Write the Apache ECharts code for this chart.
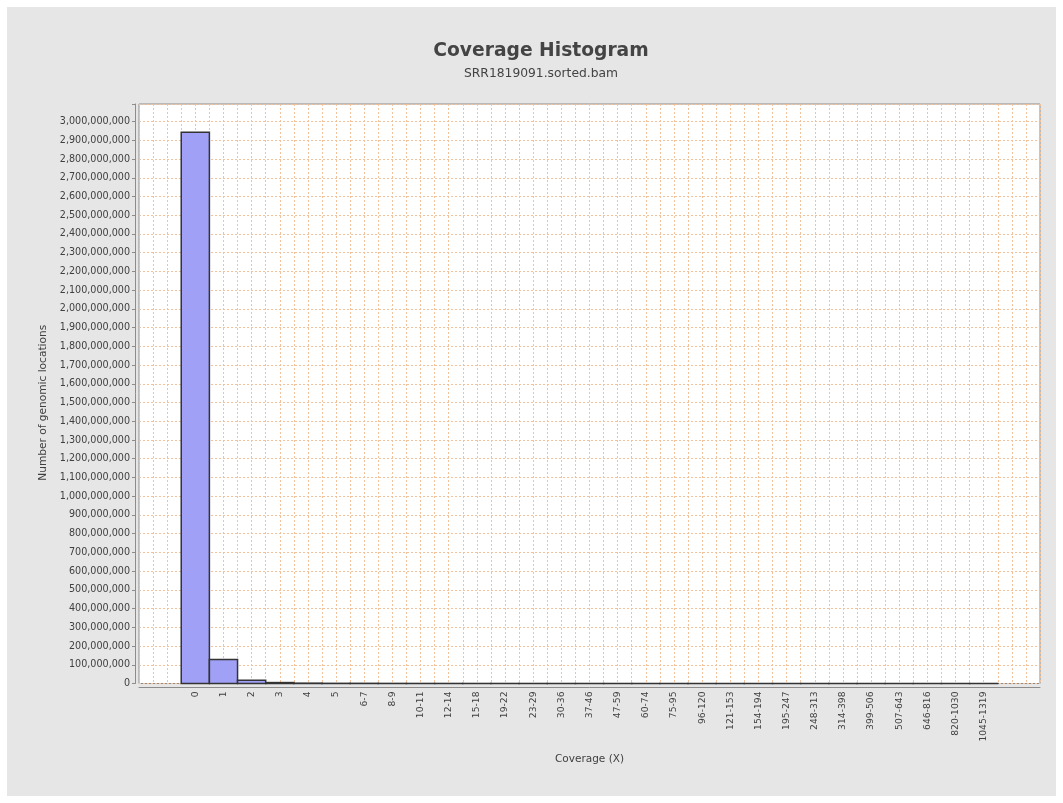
<!DOCTYPE html>
<html>
<head>
<meta charset="utf-8">
<script src="https://cdn.jsdelivr.net/npm/echarts@6/dist/echarts.min.js"></script>
<style>
html,body{margin:0;padding:0;background:#ffffff;}
#frame{position:absolute;left:7px;top:7px;width:1049px;height:789px;background:#e6e6e6;}
#chart{position:absolute;left:0;top:0;width:1063px;height:803px;}
</style>
</head>
<body>
<div id="frame"></div>
<div id="chart"></div>
<script>
// ---- data ----
const titleText = 'Coverage Histogram';
const subtitleText = 'SRR1819091.sorted.bam';
const xAxisName = 'Coverage (X)';
const yAxisName = 'Number of genomic locations';
const categories = ['0','1','2','3','4','5','6-7','8-9','10-11','12-14','15-18','19-22','23-29','30-36','37-46','47-59','60-74','75-95','96-120','121-153','154-194','195-247','248-313','314-398','399-506','507-643','646-816','820-1030','1045-1319'];
const values = [2943000000, 128000000, 17000000, 5000000, 1800000, 900000, 900000, 500000, 350000, 300000, 250000, 200000, 180000, 150000, 120000, 100000, 80000, 60000, 40000, 30000, 20000, 15000, 10000, 8000, 5000, 3000, 2000, 1000, 500];
const yMax = 3094000000;
const yInterval = 100000000;

const chart = echarts.init(document.getElementById('chart'), null, {renderer:'canvas'});
const font = 'DejaVu Sans';
const data = values.map((v, i) => [i, v]);
const gridColor = '#f3c29a';

function fmt(v){ return Math.round(v).toString().replace(/\B(?=(\d{3})+(?!\d))/g, ','); }

chart.setOption({
  backgroundColor: 'transparent',
  animation: false,
  title: {
    text: titleText,
    subtext: subtitleText,
    left: 536,
    top: 37,
    textAlign: 'center',
    itemGap: 7,
    textStyle: {fontFamily: font, fontSize: 18.7, fontWeight: 'bold', color: '#444444'},
    subtextStyle: {fontFamily: font, fontSize: 12.3, color: '#444444'}
  },
  grid: {
    left: 139, top: 104, width: 901, height: 579.5,
    show: true, backgroundColor: '#ffffff', borderColor: '#8c8c8c', borderWidth: 1
  },
  xAxis: {
    type: 'value', min: -2, max: 30, interval: 0.5,
    offset: 4,
    name: xAxisName, nameLocation: 'middle', nameGap: 66,
    nameTextStyle: {fontFamily: font, fontSize: 10.5, color: '#404040'},
    axisLine: {show: true, onZero: false, lineStyle: {color: '#8c8c8c', width: 1}},
    axisTick: {show: false},
    axisLabel: {
      rotate: 90, margin: 4, fontFamily: font, fontSize: 9.2, color: '#404040',
      showMinLabel: true, showMaxLabel: true,
      formatter: function(v){
        if (Math.abs(v - Math.round(v)) > 1e-6) return '';
        const i = Math.round(v);
        return (i >= 0 && i < categories.length) ? categories[i] : '';
      }
    },
    splitLine: {show: true, lineStyle: {color: gridColor, type: [2, 2], width: 1}}
  },
  yAxis: {
    type: 'value', min: 0, max: yMax, interval: yInterval,
    offset: 4,
    name: yAxisName, nameLocation: 'middle', nameGap: 85,
    nameTextStyle: {fontFamily: font, fontSize: 10.6, color: '#404040', padding: [0, 18, 0, 0]},
    axisLine: {show: true, onZero: false, lineStyle: {color: '#8c8c8c', width: 1}},
    axisTick: {show: true, length: 3, lineStyle: {color: '#8c8c8c'}},
    axisLabel: {
      margin: 5, fontFamily: font, fontSize: 9.6, color: '#404040',
      formatter: function(v){ return (Math.abs(v % yInterval) < 1) ? fmt(v) : ''; }
    },
    splitLine: {show: true, lineStyle: {color: gridColor, type: [2, 2], width: 1}}
  },
  series: [{
    type: 'custom',
    data: data,
    encode: {x: 0, y: 1},
    renderItem: function(params, api){
      const x = api.value(0), y = api.value(1);
      const p0 = api.coord([x - 0.5, y]);
      const p1 = api.coord([x + 0.5, 0]);
      return {
        type: 'rect',
        shape: {x: p0[0], y: p0[1], width: p1[0] - p0[0], height: p1[1] - p0[1]},
        style: {fill: '#a0a0f7', stroke: '#333333', lineWidth: 1.5}
      };
    }
  }]
});
</script>
</body>
</html>
